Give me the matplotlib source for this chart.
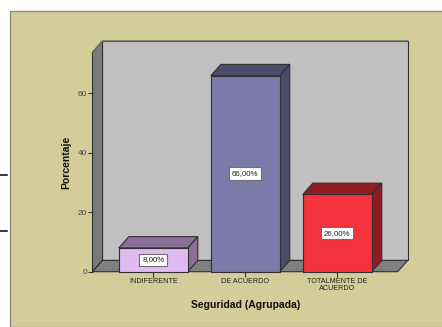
#!/usr/bin/env python

# Import libraries
import matplotlib
matplotlib.use('Agg')
import matplotlib.pyplot as plt
from matplotlib.patches import Polygon, Rectangle

# Chart values
categories = ['INDIFERENTE', 'DE ACUERDO', 'TOTALMENTE DE\nACUERDO']
percentages = [8, 66, 26]
value_labels = ['8,00%', '66,00%', '26,00%']
y_ticks = [0, 20, 40, 60]
x_label = 'Seguridad (Agrupada)'
y_label = 'Porcentaje'

# Colours for each bar: front face, then the shaded top and side
front_colors = ['#E0B9F1', '#7B7AA9', '#F4333D']
shade_colors = ['#8A6F96', '#4B4A6A', '#8F1C22']

W, H = 442, 327
PANEL = '#D3CE99'
EDGE = '#303030'

plt.rcParams['font.family'] = ['Liberation Sans', 'DejaVu Sans']

fig = plt.figure(figsize=(W / 100, H / 100), dpi=100, facecolor='white')

# Background panel and the two short black rules left of it
fig.add_artist(Rectangle((10 / W, 0), 1, 1 - 11 / H, transform=fig.transFigure,
                         facecolor=PANEL, edgecolor='#8E8E86', linewidth=1, zorder=-1))
for y in [174.7, 231]:
    fig.add_artist(plt.Line2D([0, 6.5 / W], [1 - y / H, 1 - y / H],
                              color='black', linewidth=1.1, zorder=-1))

# Axes cover the front plane of the 3D box
left, right, top, bottom = 92.5, 397.7, 52.3, 271.7
ax = fig.add_axes([left / W, 1 - bottom / H, (right - left) / W, (bottom - top) / H])
ax.set_xlim(-0.661, 2.657)
ax.set_ylim(0, (bottom - top) / 2.97)
ax.patch.set_visible(False)
for spine in ax.spines.values():
    spine.set_visible(False)

# Depth of the box in data units
dx = 10 / 92
dy = 11.3 / 2.97
x0, x1 = ax.get_xlim()
y1 = ax.get_ylim()[1]


def add_poly(points, color, z=1, lw=0.8):
    ax.add_patch(Polygon(points, closed=True, facecolor=color, edgecolor=EDGE,
                         linewidth=lw, joinstyle='miter', clip_on=False, zorder=z))


# Back wall, left wall and floor
add_poly([(x0 + dx, dy), (x1 + dx, dy), (x1 + dx, y1 + dy), (x0 + dx, y1 + dy)], '#C0C0C0')
add_poly([(x0, 0), (x0 + dx, dy), (x0 + dx, y1 + dy), (x0, y1)], '#7A7A7A')
add_poly([(x0, 0), (x1, 0), (x1 + dx, dy), (x0 + dx, dy)], '#7F7F7F')
# The upper edge of the wall is lighter than the others
ax.plot([x0, x0 + dx, x1 + dx], [y1, y1 + dy, y1 + dy], color='#6E6E62', linewidth=1, clip_on=False, zorder=2)

# Bars with their top and side faces
bar_width = 0.75
for i, value in enumerate(percentages):
    a, b = i - bar_width / 2, i + bar_width / 2
    add_poly([(a, value), (b, value), (b + dx, value + dy), (a + dx, value + dy)], shade_colors[i], 3)
    add_poly([(b, 0), (b + dx, dy), (b + dx, value + dy), (b, value)], shade_colors[i], 3)
    add_poly([(a, 0), (b, 0), (b, value), (a, value)], front_colors[i], 4)
    ax.text(i, value / 2, value_labels[i], ha='center', va='center', fontsize=5.7,
            color='#222222', zorder=5,
            bbox=dict(boxstyle='square,pad=0.35', facecolor='white',
                      edgecolor='#707070', linewidth=0.8))

ax.set_xticks(range(len(categories)))
ax.set_xticklabels(categories, fontsize=5.2, linespacing=1.1, color='#222222')
ax.set_yticks(y_ticks)
ax.tick_params(axis='y', length=3.5, width=0.8, pad=0.5, labelsize=6, labelcolor='#444444', color='#333333')
ax.tick_params(axis='x', length=3.5, width=0.8, pad=1, color='#333333')

fig.text(245.5 / W, 1 - 305.5 / H, x_label, ha='center', va='center',
         fontsize=7.5, fontweight='bold', color='#111111')
fig.text(66 / W, 1 - 162.5 / H, y_label, rotation=90, ha='center', va='center',
         fontsize=7.5, fontweight='bold', color='#111111')

fig.savefig('out.png', dpi=100)
